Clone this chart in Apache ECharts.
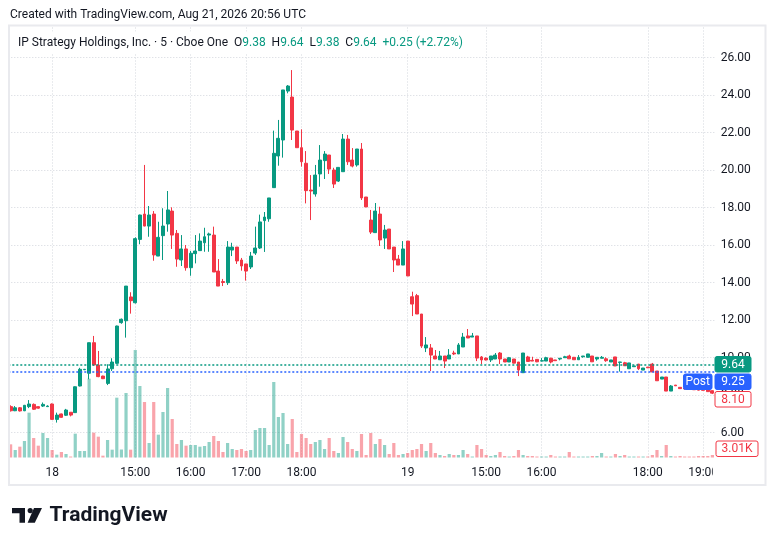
<!DOCTYPE html>
<html>
<head>
<meta charset="utf-8">
<script src="https://cdn.jsdelivr.net/npm/echarts@6/dist/echarts.min.js"></script>
<style>
html, body { margin: 0; padding: 0; background: #fff; }
#chart { width: 776px; height: 546px; }
</style>
</head>
<body>
<div id="chart"></div>
<script>
// 5-minute bars, Cboe One
var opens = [
	7.38, 7.16, 7.32, 7.16, 7.38, 7.50, 7.38, 7.41, 7.38, 7.52,
	6.70, 6.99, 6.92, 7.08, 7.06, 8.48, 9.35, 9.16, 10.79, 9.60,
	9.01, 8.62, 9.40, 9.69, 11.86, 11.96, 13.23, 12.92, 16.30, 17.65,
	17.01, 17.65, 15.41, 16.50, 17.12, 17.81, 16.62, 15.20, 15.79, 14.79,
	15.54, 15.70, 16.12, 16.53, 16.53, 14.61, 14.05, 13.99, 15.73, 15.89,
	15.20, 14.99, 14.83, 15.57, 15.84, 17.30, 17.40, 19.06, 20.75, 21.60,
	24.21, 23.89, 22.08, 21.19, 20.36, 18.93, 18.72, 19.79, 20.50, 20.80,
	20.00, 19.41, 19.91, 21.65, 20.53, 20.27, 21.12, 18.56, 17.33, 16.66,
	17.65, 16.37, 16.85, 15.89, 15.25, 14.93, 16.21, 13.24, 13.30, 12.32,
	10.51, 10.51, 10.08, 9.88, 10.08, 9.92, 10.24, 10.19, 10.56, 11.15,
	11.09, 11.15, 10.03, 9.97, 9.87, 9.92, 10.24, 9.92, 9.76, 9.92,
	9.76, 9.19, 10.03, 9.85, 9.90, 9.81, 9.81, 9.96, 9.87, 9.92,
	9.99, 10.08, 10.01, 9.88, 10.04, 10.01, 10.08, 9.92, 9.96, 9.93,
	9.76, 10.03, 9.74, 9.72, 9.40, 9.51, 9.65, 9.33, 9.49, 9.65,
	9.28, 8.85, 8.96, 8.21, 8.53, 8.41, 8.36, 8.33, 8.32, 8.30,
	8.29, 8.30, 8.23
];
var highs = [
	7.45, 7.41, 7.36, 7.47, 7.73, 7.55, 7.40, 7.60, 7.45, 7.55,
	7.06, 7.01, 7.26, 7.08, 8.46, 9.45, 9.39, 10.79, 11.15, 10.35,
	9.03, 9.64, 9.96, 11.70, 12.08, 13.81, 13.48, 16.41, 17.62, 20.27,
	18.08, 17.81, 17.24, 17.96, 18.88, 18.01, 16.80, 16.53, 16.00, 15.68,
	16.53, 16.62, 16.92, 16.66, 16.98, 15.25, 14.19, 16.21, 16.12, 15.89,
	15.31, 14.99, 15.63, 16.98, 17.62, 17.76, 18.51, 22.10, 22.67, 24.27,
	24.53, 25.33, 22.08, 22.17, 21.01, 19.73, 20.27, 21.33, 21.01, 20.80,
	20.12, 20.14, 21.92, 21.87, 21.17, 21.12, 21.44, 18.56, 17.87, 18.24,
	18.04, 17.07, 16.85, 15.89, 15.47, 16.21, 16.21, 13.51, 13.39, 12.32,
	11.09, 10.72, 10.40, 10.35, 10.08, 10.45, 10.36, 10.77, 11.31, 11.52,
	11.31, 11.15, 10.08, 10.00, 10.08, 10.24, 10.29, 9.92, 10.03, 9.92,
	9.76, 10.24, 10.09, 10.04, 9.92, 9.97, 10.04, 9.99, 9.87, 9.96,
	10.09, 10.15, 10.03, 10.13, 10.08, 10.19, 10.08, 10.01, 10.08, 10.01,
	9.87, 10.03, 9.77, 9.77, 9.71, 9.55, 9.65, 9.44, 9.49, 9.71,
	9.28, 8.96, 8.96, 8.53, 8.53, 8.41, 8.38, 8.35, 8.33, 8.31,
	8.30, 8.30, 8.25
];
var lows = [
	7.12, 7.14, 7.12, 7.14, 7.30, 7.20, 7.27, 7.36, 7.36, 6.68,
	6.53, 6.79, 6.88, 6.86, 7.04, 8.46, 9.33, 8.84, 9.55, 8.95,
	8.85, 8.53, 9.28, 9.65, 11.80, 11.06, 12.34, 12.88, 16.04, 17.00,
	16.44, 15.16, 15.41, 15.20, 16.71, 15.79, 14.84, 14.88, 14.63, 14.36,
	15.02, 15.68, 15.64, 15.64, 14.56, 13.81, 13.81, 13.87, 15.41, 14.99,
	14.63, 14.10, 14.72, 15.47, 15.79, 15.63, 17.24, 19.06, 20.23, 20.66,
	24.09, 21.60, 21.19, 20.18, 18.22, 17.33, 18.58, 19.11, 19.52, 19.79,
	19.04, 19.36, 19.91, 20.27, 20.14, 20.18, 18.40, 18.03, 16.59, 16.66,
	15.95, 15.79, 15.79, 14.56, 14.93, 14.93, 14.35, 12.21, 12.32, 10.51,
	10.29, 9.28, 9.92, 9.88, 9.44, 9.92, 10.13, 10.19, 10.56, 11.04,
	11.09, 9.81, 9.65, 9.84, 9.76, 9.92, 9.65, 9.76, 9.76, 9.69,
	9.01, 9.19, 9.79, 9.81, 9.75, 9.79, 9.81, 9.69, 9.83, 9.85,
	9.99, 9.93, 9.88, 9.88, 9.99, 10.01, 9.77, 9.83, 9.96, 9.77,
	9.76, 9.55, 9.25, 9.56, 9.40, 9.51, 9.33, 9.33, 9.45, 9.23,
	8.76, 8.85, 8.21, 8.21, 8.49, 8.34, 8.30, 8.29, 8.27, 8.25,
	8.24, 8.18, 8.05
];
var closes = [
	7.16, 7.32, 7.15, 7.45, 7.52, 7.24, 7.30, 7.50, 7.41, 6.70,
	6.93, 6.81, 7.20, 6.93, 8.44, 9.37, 9.37, 10.79, 9.60, 8.98,
	8.87, 9.39, 9.76, 11.68, 12.04, 13.81, 13.03, 16.34, 17.60, 17.01,
	17.60, 15.47, 16.41, 17.01, 17.87, 16.53, 15.25, 15.79, 14.79, 15.56,
	15.68, 16.21, 16.44, 16.59, 14.56, 13.81, 14.00, 15.89, 15.89, 15.15,
	14.88, 14.61, 15.41, 15.84, 17.23, 17.49, 18.51, 20.89, 21.69, 24.27,
	24.48, 22.13, 21.19, 20.44, 18.90, 18.88, 19.73, 20.53, 20.85, 20.05,
	19.25, 20.14, 21.65, 20.44, 20.21, 21.12, 18.51, 18.03, 16.69, 17.81,
	16.27, 16.80, 15.79, 15.20, 14.93, 15.79, 14.35, 12.85, 12.32, 10.61,
	10.67, 10.13, 9.92, 10.08, 9.81, 10.13, 10.19, 10.67, 11.09, 11.04,
	11.15, 9.97, 9.87, 9.87, 10.08, 10.13, 9.92, 9.76, 9.99, 9.70,
	9.33, 10.24, 9.79, 9.81, 9.77, 9.83, 9.99, 9.76, 9.83, 9.96,
	10.04, 9.93, 9.88, 10.01, 10.08, 10.19, 9.77, 10.01, 10.01, 9.83,
	9.87, 9.55, 9.76, 9.56, 9.71, 9.55, 9.40, 9.44, 9.45, 9.23,
	8.76, 8.96, 8.21, 8.48, 8.49, 8.34, 8.32, 8.30, 8.28, 8.26,
	8.25, 8.18, 8.10
];
// volume in thousands of shares
var volumes = [
	15.8, 9.0, 13.0, 19.8, 53.8, 23.4, 14.2, 29.4, 23.4, 9.0,
	3.4, 6.6, 4.2, 1.2, 28.6, 7.8, 7.8, 94.6, 29.8, 25.0,
	2.2, 21.0, 9.4, 71.8, 9.6, 77.4, 9.4, 129.0, 85.8, 66.6,
	17.4, 66.6, 27.4, 54.6, 83.4, 46.2, 16.2, 21.0, 14.2, 15.0,
	15.0, 13.0, 13.8, 18.6, 25.8, 19.8, 6.6, 17.4, 10.2, 9.0,
	10.2, 7.8, 9.0, 33.0, 35.4, 35.4, 15.0, 90.6, 48.6, 53.4,
	16.2, 46.2, 6.6, 28.2, 23.4, 16.2, 18.6, 21.0, 10.2, 23.4,
	7.8, 5.4, 24.6, 18.6, 10.2, 7.8, 28.2, 3.0, 29.4, 16.2,
	22.2, 15.0, 4.2, 17.4, 3.0, 4.2, 5.4, 9.0, 10.2, 16.2,
	7.8, 17.4, 5.4, 3.0, 1.8, 4.2, 3.0, 3.0, 9.0, 4.2,
	0.6, 15.0, 10.2, 3.0, 1.8, 3.0, 6.6, 1.8, 0.6, 1.8,
	9.0, 3.0, 1.8, 1.8, 0.6, 0.6, 0.6, 3.0, 0.6, 0.6,
	0.6, 6.6, 0.6, 0.6, 0.6, 0.6, 1.8, 1.8, 5.4, 0.6,
	1.2, 4.2, 1.8, 3.0, 0.6, 0.6, 0.6, 0.6, 0.6, 3.0,
	9.0, 1.8, 15.0, 1.8, 0.6, 1.8, 0.6, 0.6, 0.6, 1.8,
	1.8, 1.8, 3.01
];
// time axis ticks (bar index -> label)
var tickIndex = [9, 27, 39, 51, 63, 86, 103, 115, 138, 150];
var tickText = ['18', '15:00', '16:00', '17:00', '18:00', '19', '15:00', '16:00', '18:00', '19:00'];
var priceTicks = { min: 6, max: 26, step: 2 };

var lastPrice = 9.64, postPrice = 9.25, lastClose = 8.10, lastVolume = '3.01K';
var headerText = 'Created with TradingView.com, Aug 21, 2026 20:56 UTC';
var symbolText = 'IP Strategy Holdings, Inc. · 5 · Cboe One';
var ohlcText = ['9.38', '9.64', '9.38', '9.64'];
var changeText = '+0.25 (+2.72%)';

var FONT = 'Roboto, "Noto Sans", sans-serif';
var UP = '#089981', DOWN = '#f23645', BLUE = '#2962ff', TXT = '#131722';
var GRID_C = '#d3d6dd';

var plotLeft = 8.3, plotRight = 61.3, paneTop = 26, paneBottom = 457.5;

var categories = opens.map(function (v, i) { return String(i); });
var candles = opens.map(function (o, i) { return [o, closes[i], lows[i], highs[i]]; });
var volData = volumes.map(function (v, i) {
	return {
		value: v,
		itemStyle: { color: closes[i] >= opens[i] ? 'rgba(8,153,129,0.45)' : 'rgba(242,54,69,0.45)' }
	};
});
var tickLabel = {};
tickIndex.forEach(function (idx, k) { tickLabel[idx] = tickText[k]; });

var myChart = echarts.init(document.getElementById('chart'));
option = {
	animation: false,
	backgroundColor: '#fff',
	grid: [
		{ left: plotLeft, right: plotRight, top: 57.5, height: 375 },
		{ left: plotLeft, right: plotRight, top: paneTop, height: paneBottom - paneTop }
	],
	xAxis: [
		{ type: 'category', gridIndex: 0, data: categories, show: false },
		{
			type: 'category', gridIndex: 1, data: categories,
			axisLine: { show: false }, axisTick: { show: false }, splitLine: { show: false },
			axisLabel: {
				interval: function (i) { return tickLabel[i] !== undefined; },
				formatter: function (v, i) { return tickLabel[i] || ''; },
				color: TXT, fontSize: 12, fontFamily: FONT, margin: 9
			}
		}
	],
	yAxis: [
		{
			type: 'value', gridIndex: 0, position: 'right',
			min: priceTicks.min, max: priceTicks.max, interval: priceTicks.step,
			axisLine: { show: false }, axisTick: { show: false },
			axisLabel: {
				formatter: function (v) { return v.toFixed(2); },
				color: TXT, fontSize: 12, fontFamily: FONT, margin: 6
			},
			splitLine: { lineStyle: { color: GRID_C, type: [1, 2], width: 1 } }
		},
		{
			type: 'value', gridIndex: 1, min: 0, max: (paneBottom - paneTop) * 1.2,
			show: false, splitLine: { show: false }
		}
	],
	series: [
		{
			name: 'Volume', type: 'bar', xAxisIndex: 1, yAxisIndex: 1,
			data: volData, barWidth: 3.2, barMinHeight: 1, z: 2,
			markLine: {
				silent: true, symbol: 'none', z: 1, label: { show: false },
				lineStyle: { color: GRID_C, type: [1, 2], width: 1 },
				data: tickIndex.map(function (i) { return { xAxis: i }; })
			}
		},
		{
			name: 'Price', type: 'candlestick', xAxisIndex: 0, yAxisIndex: 0,
			data: candles, barWidth: 3.4, z: 3,
			itemStyle: { color: UP, color0: DOWN, borderColor: UP, borderColor0: DOWN, borderWidth: 1 },
			markLine: {
				silent: true, symbol: 'none', label: { show: false },
				data: [
					{ yAxis: lastPrice, lineStyle: { color: UP, type: [2, 2], width: 1.5 } },
					{ yAxis: postPrice, lineStyle: { color: BLUE, type: [2, 2], width: 1.5 } }
				]
			}
		}
	]
};
myChart.setOption(option);

// price / volume tags on the right scale
function tag(x, y, w, h, fill, stroke, text, color) {
	return [
		{ type: 'rect', z: 60, shape: { x: x, y: y, width: w, height: h, r: 2 },
			style: { fill: fill, stroke: stroke, lineWidth: 1 } },
		{ type: 'text', z: 61, x: x + w / 2, y: y + h / 2 + 0.5,
			style: { text: text, fill: color, font: '12px ' + FONT, align: 'center', verticalAlign: 'middle' } }
	];
}

var boxX = 715, boxW = 36, boxH = 15.5, gap = 2;
var y1 = myChart.convertToPixel({ yAxisIndex: 0 }, lastPrice) - boxH / 2;
var y2 = Math.max(myChart.convertToPixel({ yAxisIndex: 0 }, postPrice) - boxH / 2, y1 + boxH + gap);
var y3 = Math.max(myChart.convertToPixel({ yAxisIndex: 0 }, lastClose) - boxH / 2, y2 + boxH + gap);
var yv = Math.min(myChart.convertToPixel({ yAxisIndex: 1 }, volumes[volumes.length - 1]) - boxH / 2, paneBottom - boxH - 1);

var g = [];
// white strip that clips the time labels under the price scale
g.push({ type: 'rect', z: 50, shape: { x: 712.7, y: paneBottom + 1, width: 52, height: 26 }, style: { fill: '#fff' } });
g = g.concat(tag(boxX, y1, boxW, boxH, UP, UP, lastPrice.toFixed(2), '#fff'));
g = g.concat(tag(683.5, y2, 28.5, boxH, BLUE, BLUE, 'Post', '#fff'));
g = g.concat(tag(boxX, y2, boxW, boxH, BLUE, BLUE, postPrice.toFixed(2), '#fff'));
g = g.concat(tag(boxX, y3, boxW, boxH, '#fff', DOWN, lastClose.toFixed(2), DOWN));
g = g.concat(tag(boxX + 1, yv, 42, boxH, '#fff', DOWN, lastVolume, DOWN));
// frame
g.push({ type: 'rect', z: 70, shape: { x: 9, y: 25.5, width: 756.5, height: 459.5 },
	style: { fill: 'none', stroke: '#e9eaee', lineWidth: 2 } });
// header + legend
g.push({ type: 'text', z: 70, x: 10, y: 15,
	style: { text: headerText, fill: TXT, font: '12px ' + FONT, verticalAlign: 'middle' } });
g.push({ type: 'text', z: 70, x: 12, y: 42.5,
	style: {
		text: '{s|' + symbolText + '}  {k|O}{v|' + ohlcText[0] + '}  {k|H}{v|' + ohlcText[1] + '}  {k|L}{v|' +
			ohlcText[2] + '}  {k|C}{v|' + ohlcText[3] + '}  {v|' + changeText + '}',
		verticalAlign: 'middle', backgroundColor: '#fff', padding: [5, 6],
		font: '12px ' + FONT,
		rich: {
			s: { fill: TXT, font: '12px ' + FONT },
			k: { fill: TXT, font: '12px ' + FONT },
			v: { fill: UP, font: '12px ' + FONT }
		}
	} });
// TradingView logo
g.push({ type: 'polygon', z: 70, shape: { points: [[12, 508], [25, 508], [25, 522.7], [19.5, 522.7], [19.5, 513.2], [12, 513.2]] }, style: { fill: TXT } });
g.push({ type: 'circle', z: 70, shape: { cx: 30.2, cy: 510.6, r: 2.6 }, style: { fill: TXT } });
g.push({ type: 'polygon', z: 70, shape: { points: [[34, 508], [42, 508], [34.8, 522.7], [27.6, 522.7]] }, style: { fill: TXT } });
g.push({ type: 'text', z: 70, x: 49.5, y: 515.5,
	style: { text: 'TradingView', fill: TXT, font: 'bold 21px Roboto, sans-serif', verticalAlign: 'middle' } });

myChart.setOption({ graphic: g });
</script>
</body>
</html>
